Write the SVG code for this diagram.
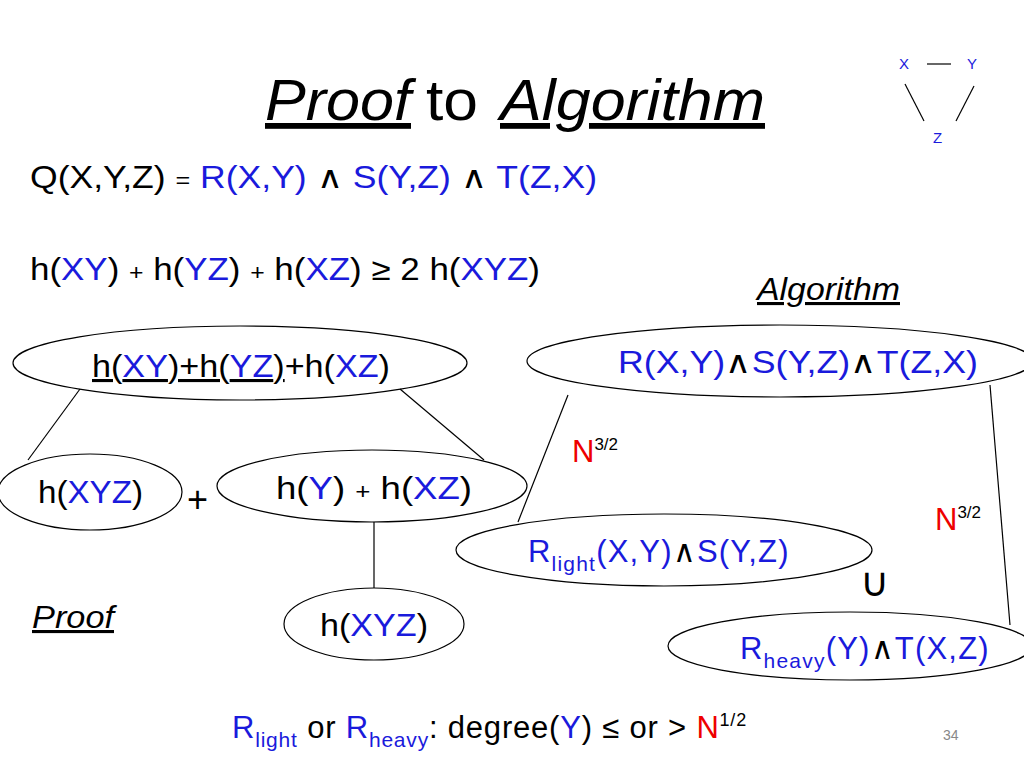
<svg xmlns="http://www.w3.org/2000/svg" width="1024" height="768" viewBox="0 0 1024 768">
<style>
text{font-family:"Liberation Sans",Arial,sans-serif;fill:#000}
.b{fill:#1a1adc}.r{fill:#e00}
.t{font-size:31px}
ellipse{fill:none;stroke:#000;stroke-width:1.2}
line{stroke:#000;stroke-width:1.2}
</style>
<rect width="1024" height="768" fill="#fff"/>
<text x="265" y="120" font-size="58" font-style="italic" text-decoration="underline" textLength="146" lengthAdjust="spacingAndGlyphs">Proof</text>
<text x="426" y="120" font-size="58" textLength="52" lengthAdjust="spacingAndGlyphs">to</text>
<text x="500" y="120" font-size="58" font-style="italic" text-decoration="underline" textLength="265" lengthAdjust="spacingAndGlyphs">Algorithm</text>
<g id="tri" font-size="15">
<text x="899" y="69" class="b">X</text><text x="967" y="69" class="b">Y</text><text x="933" y="143" class="b">Z</text>
<line x1="927" y1="64" x2="951" y2="64"/><line x1="905" y1="84" x2="924" y2="121"/><line x1="974" y1="86" x2="956" y2="121"/>
</g>
<text x="30" y="188" class="t" textLength="567" lengthAdjust="spacingAndGlyphs">Q(X,Y,Z) <tspan font-size="22">=</tspan> <tspan class="b">R(X,Y)</tspan>  ∧  <tspan class="b">S(Y,Z)</tspan>  ∧  <tspan class="b">T(Z,X)</tspan></text>
<text x="30" y="280" class="t" textLength="510" lengthAdjust="spacingAndGlyphs">h(<tspan class="b">XY</tspan>) <tspan font-size="22">+</tspan> h(<tspan class="b">YZ</tspan>) <tspan font-size="22">+</tspan> h(<tspan class="b">XZ</tspan>) ≥ 2 h(<tspan class="b">XYZ</tspan>)</text>
<text x="757" y="300" font-size="31" font-style="italic" text-decoration="underline" textLength="143" lengthAdjust="spacingAndGlyphs">Algorithm</text>
<text x="32" y="628" font-size="31" font-style="italic" text-decoration="underline" textLength="82" lengthAdjust="spacingAndGlyphs">Proof</text>
<g id="connectors">
<line x1="80" y1="389" x2="28" y2="460"/><line x1="400" y1="389" x2="484" y2="460"/><line x1="374" y1="522" x2="374" y2="588"/>
<line x1="568" y1="395" x2="518" y2="522"/><line x1="990" y1="385" x2="1010" y2="625"/>
</g>
<g id="n1"><ellipse cx="240" cy="363" rx="227" ry="37"/><text x="92" y="377" class="t" textLength="298" lengthAdjust="spacingAndGlyphs"><tspan text-decoration="underline">h(<tspan class="b">XY</tspan>)+h(<tspan class="b">YZ</tspan>)</tspan>+h(<tspan class="b">XZ</tspan>)</text></g>
<g id="n2"><ellipse cx="90" cy="492" rx="92" ry="38"/><text x="38" y="503" class="t" textLength="105" lengthAdjust="spacingAndGlyphs">h(<tspan class="b">XYZ</tspan>)</text></g>
<text x="187" y="512" font-size="36">+</text>
<g id="n3"><ellipse cx="372" cy="486" rx="155" ry="36"/><text x="276" y="499" class="t" textLength="196" lengthAdjust="spacingAndGlyphs">h(<tspan class="b">Y</tspan>)  <tspan font-size="22">+</tspan> h(<tspan class="b">XZ</tspan>)</text></g>
<g id="n4"><ellipse cx="374" cy="624" rx="90" ry="36"/><text x="320" y="636" class="t" textLength="108" lengthAdjust="spacingAndGlyphs">h(<tspan class="b">XYZ</tspan>)</text></g>
<g id="n5"><ellipse cx="780" cy="361" rx="253" ry="36"/><text x="618" y="373" class="t b" textLength="360" lengthAdjust="spacingAndGlyphs">R(X,Y)<tspan fill="#000">∧</tspan>S(Y,Z)<tspan fill="#000">∧</tspan>T(Z,X)</text></g>
<g id="n6"><ellipse cx="664" cy="550" rx="208" ry="36"/><text x="528" y="562" class="t b" letter-spacing="1.2">R<tspan font-size="21" dy="9">light</tspan><tspan dy="-9">(X,Y)</tspan><tspan fill="#000">∧</tspan>S(Y,Z)</text></g>
<g id="n7"><ellipse cx="850" cy="646" rx="182" ry="34"/><text x="740" y="659" class="t b" letter-spacing="1.2">R<tspan font-size="21" dy="9">heavy</tspan><tspan dy="-9">(Y)</tspan><tspan fill="#000">∧</tspan>T(X,Z)</text></g>
<text x="572" y="462" class="t r">N<tspan font-size="17" dy="-12" fill="#000">3/2</tspan></text>
<text x="935" y="530" class="t r">N<tspan font-size="17" dy="-12" fill="#000">3/2</tspan></text>
<text x="860" y="596" font-size="40">∪</text>
<text x="232" y="738" class="t" letter-spacing="0.8"><tspan class="b">R</tspan><tspan class="b" font-size="21" dy="9">light</tspan><tspan dy="-9"> or </tspan><tspan class="b">R</tspan><tspan class="b" font-size="21" dy="9">heavy</tspan><tspan dy="-9">: degree(</tspan><tspan class="b">Y</tspan>) ≤ or &gt; <tspan class="r">N</tspan><tspan font-size="18" dy="-12">1/2</tspan></text>
<text x="943" y="740" font-size="14" style="fill:#888">34</text>
</svg>
